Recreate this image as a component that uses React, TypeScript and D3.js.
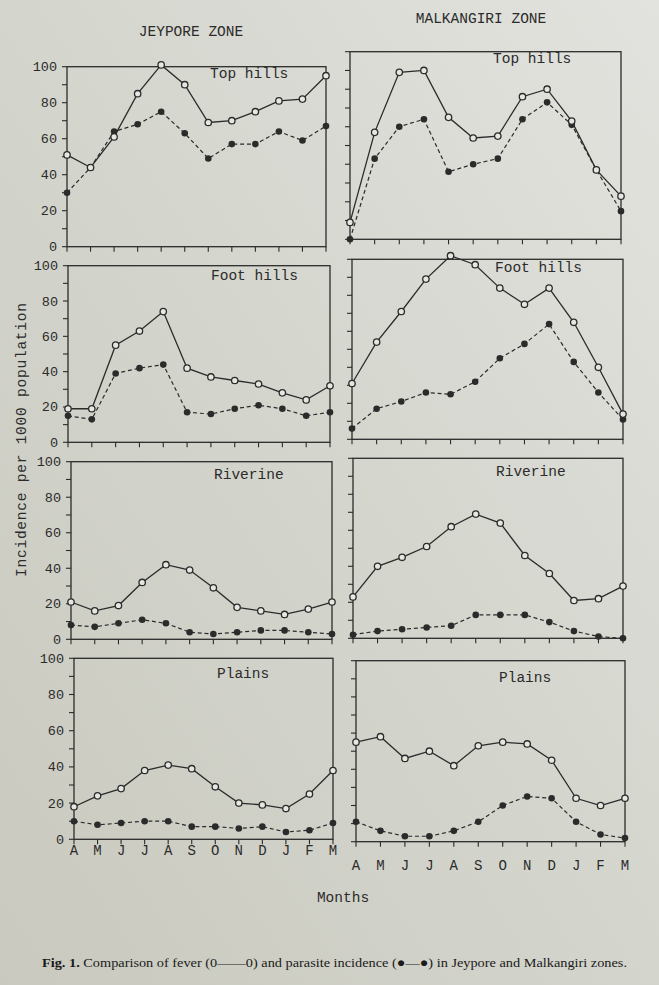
import React from "react";
import * as d3 from "d3";

const months = ["A", "M", "J", "J", "A", "S", "O", "N", "D", "J", "F", "M"];
const yTickLabels = [0, 20, 40, 60, 80, 100];
const yMinorTicks = [0, 10, 20, 30, 40, 50, 60, 70, 80, 90, 100];
const zoneNames = ["JEYPORE ZONE", "MALKANGIRI ZONE"];
const areaNames = ["Top hills", "Foot hills", "Riverine", "Plains"];

// Jeypore zone
const jeyTopFever = [51, 44, 61, 85, 101, 90, 69, 70, 75, 81, 82, 95];
const jeyTopParasite = [30, 44, 64, 68, 75, 63, 49, 57, 57, 64, 59, 67];
const jeyFootFever = [19, 19, 55, 63, 74, 42, 37, 35, 33, 28, 24, 32];
const jeyFootParasite = [15, 13, 39, 42, 44, 17, 16, 19, 21, 19, 15, 17];
const jeyRivFever = [21, 16, 19, 32, 42, 39, 29, 18, 16, 14, 17, 21];
const jeyRivParasite = [8, 7, 9, 11, 9, 4, 3, 4, 5, 5, 4, 3];
const jeyPlainsFever = [18, 24, 28, 38, 41, 39, 29, 20, 19, 17, 25, 38];
const jeyPlainsParasite = [10, 8, 9, 10, 10, 7, 7, 6, 7, 4, 5, 9];
// Malkangiri zone
const malTopFever = [9, 57, 89, 90, 65, 54, 55, 76, 80, 63, 37, 23];
const malTopParasite = [0, 43, 60, 64, 36, 40, 43, 64, 73, 61, 37, 15];
const malFootFever = [31, 54, 71, 89, 102, 97, 84, 75, 84, 65, 40, 14];
const malFootParasite = [6, 17, 21, 26, 25, 32, 45, 53, 64, 43, 26, 11];
const malRivFever = [23, 40, 45, 51, 62, 69, 64, 46, 36, 21, 22, 29];
const malRivParasite = [2, 4, 5, 6, 7, 13, 13, 13, 9, 4, 1, 0];
const malPlainsFever = [55, 58, 46, 50, 42, 53, 55, 54, 45, 24, 20, 24];
const malPlainsParasite = [11, 6, 3, 3, 6, 11, 20, 25, 24, 11, 4, 2];

const feverSeries = [
  [jeyTopFever, jeyFootFever, jeyRivFever, jeyPlainsFever],
  [malTopFever, malFootFever, malRivFever, malPlainsFever],
];
const parasiteSeries = [
  [jeyTopParasite, jeyFootParasite, jeyRivParasite, jeyPlainsParasite],
  [malTopParasite, malFootParasite, malRivParasite, malPlainsParasite],
];

// layout (pixel geometry of each panel)
const layout = [
  [
    { x0: 67, x1: 326, top: 66.7, bottom: 246.7, titleDy: 11 },
    { x0: 68, x1: 330, top: 265.7, bottom: 442.3, titleDy: 14 },
    { x0: 71, x1: 332, top: 461.7, bottom: 639.3, titleDy: 17 },
    { x0: 74, x1: 333, top: 658.3, bottom: 839.3, titleDy: 20 },
  ],
  [
    { x0: 350, x1: 621, top: 51.7, bottom: 239.3, titleDy: 11 },
    { x0: 352, x1: 623, top: 259.3, bottom: 439.3, titleDy: 13 },
    { x0: 353, x1: 623, top: 458.3, bottom: 638.3, titleDy: 18 },
    { x0: 356, x1: 625, top: 660.7, bottom: 841.7, titleDy: 21 },
  ],
];
const monthLabelDy = [16, 28];

const INK = "#2b2b2b";
const MONO = "'Liberation Mono', 'DejaVu Sans Mono', monospace";
const SERIF = "'Liberation Serif', 'DejaVu Serif', serif";

function Panel({ col, row }: { col: number; row: number }) {
  const g = layout[col][row];
  const idx = months.map((_, i) => i);
  const x = d3.scalePoint<number>().domain(idx).range([g.x0, g.x1]);
  const y = d3.scaleLinear().domain([0, 100]).range([g.bottom, g.top]);
  const fever = feverSeries[col][row];
  const parasite = parasiteSeries[col][row];
  const line = d3
    .line<number>()
    .x((_, i) => x(i) as number)
    .y((d) => y(d));
  const isBottom = row === 3;
  return (
    <g>
      <rect
        x={g.x0}
        y={g.top}
        width={g.x1 - g.x0}
        height={g.bottom - g.top}
        fill="none"
        stroke={INK}
        strokeWidth={1.3}
      />
      {yMinorTicks.map((t) => (
        <line
          key={"yt" + t}
          x1={g.x0 - 5}
          x2={g.x0}
          y1={y(t)}
          y2={y(t)}
          stroke={INK}
          strokeWidth={1.1}
        />
      ))}
      {col === 0 &&
        yTickLabels.map((t) => (
          <text
            key={"yl" + t}
            x={g.x0 - 10}
            y={y(t) + 4.5}
            textAnchor="end"
            fontFamily={MONO}
            fontSize={13.5}
            fill={INK}
          >
            {t}
          </text>
        ))}
      {idx.map((i) => (
        <line
          key={"xt" + i}
          x1={x(i)}
          x2={x(i)}
          y1={g.bottom}
          y2={g.bottom + 5}
          stroke={INK}
          strokeWidth={1.1}
        />
      ))}
      {isBottom &&
        idx.map((i) => (
          <text
            key={"xl" + i}
            x={x(i)}
            y={g.bottom + monthLabelDy[col]}
            textAnchor="middle"
            fontFamily={MONO}
            fontSize={14}
            fill={INK}
          >
            {months[i]}
          </text>
        ))}
      <text
        x={g.x0 + 143}
        y={g.top + g.titleDy}
        fontFamily={MONO}
        fontSize={14.5}
        fill={INK}
      >
        {areaNames[row]}
      </text>
      <path
        d={line(parasite) || ""}
        fill="none"
        stroke={INK}
        strokeWidth={1.2}
        strokeDasharray="4,2.8"
      />
      <path d={line(fever) || ""} fill="none" stroke={INK} strokeWidth={1.3} />
      {parasite.map((v, i) => (
        <circle key={"p" + i} cx={x(i)} cy={y(v)} r={3.3} fill={INK} />
      ))}
      {fever.map((v, i) => (
        <circle
          key={"f" + i}
          cx={x(i)}
          cy={y(v)}
          r={3.2}
          fill="#e6e7e2"
          stroke={INK}
          strokeWidth={1.3}
        />
      ))}
    </g>
  );
}

export default function App() {
  const W = 659;
  const H = 985;
  return (
    <svg
      width={W}
      height={H}
      style={{ position: "absolute", left: 0, top: 0, display: "block" }}
    >
      <defs>
        <linearGradient id="paper" x1="0" y1="1" x2="1" y2="0">
          <stop offset="0" stopColor="#c9c9bf" />
          <stop offset="0.55" stopColor="#d5d6ce" />
          <stop offset="1" stopColor="#e2e3de" />
        </linearGradient>
      </defs>
      <rect x={0} y={0} width={W} height={H} fill="url(#paper)" />
      <text x={191} y={36} textAnchor="middle" fontFamily={MONO} fontSize={14.5} fill={INK}>
        {zoneNames[0]}
      </text>
      <text x={481} y={23} textAnchor="middle" fontFamily={MONO} fontSize={14.5} fill={INK}>
        {zoneNames[1]}
      </text>
      {[0, 1].map((c) =>
        [0, 1, 2, 3].map((r) => <Panel key={c + "-" + r} col={c} row={r} />)
      )}
      <text
        transform="translate(26,440) rotate(-90)"
        textAnchor="middle"
        fontFamily={MONO}
        fontSize={14.5}
        fill={INK}
        textLength={274}
        lengthAdjust="spacing"
      >
        Incidence per 1000 population
      </text>
      <text x={343} y={902} textAnchor="middle" fontFamily={MONO} fontSize={14.5} fill={INK}>
        Months
      </text>
      <text
        x={42}
        y={967}
        fontFamily={SERIF}
        fontSize={13.5}
        fill="#1a1a1a"
        textLength={585}
        lengthAdjust="spacingAndGlyphs"
      >
        <tspan fontWeight="bold">Fig. 1.</tspan>
        {" Comparison of fever (0——0) and parasite incidence (\u25CF—\u25CF) in Jeypore and Malkangiri zones."}
      </text>
    </svg>
  );
}
